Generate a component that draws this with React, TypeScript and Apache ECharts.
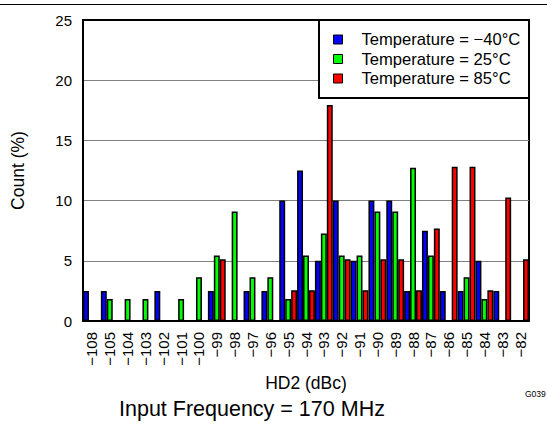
import React, { useEffect, useRef } from "react";
import * as echarts from "echarts";

const categories = [
  "\u2212108", "\u2212105", "\u2212104", "\u2212103", "\u2212102", "\u2212101", "\u2212100",
  "\u221299", "\u221298", "\u221297", "\u221296", "\u221295", "\u221294", "\u221293",
  "\u221292", "\u221291", "\u221290", "\u221289", "\u221288", "\u221287", "\u221286",
  "\u221285", "\u221284", "\u221283", "\u221282",
];

const seriesNames = ["Temperature = \u221240\u00b0C", "Temperature = 25\u00b0C", "Temperature = 85\u00b0C"];

const blueValues = [2.5, 2.5, null, null, 2.5, null, null, 2.5, null, 2.5, 2.5, 10, 12.5, 5, 10, 5, 10, 10, 2.5, 7.5, 2.5, 2.5, 5, 2.5, null];
const greenValues = [null, 1.82, 1.82, 1.82, null, 1.82, 3.64, 5.45, 9.09, 3.64, 3.64, 1.82, 5.45, 7.27, 5.45, 5.45, 9.09, 9.09, 12.73, 5.45, null, 3.64, 1.82, null, null];
const redValues = [null, null, null, null, null, null, null, 5.13, null, null, null, 2.56, 2.56, 17.95, 5.13, 2.56, 5.13, 5.13, 2.56, 7.69, 12.82, 12.82, 2.56, 10.26, 5.13];

const yTicks = { min: 0, max: 25, interval: 5 };
const colors = ["#0000ff", "#00ff00", "#ff0000"];

const FONT = "'Liberation Sans', Arial, Helvetica, sans-serif";

export default function App() {
  const ref = useRef<HTMLDivElement>(null);
  useEffect(() => {
    document.body.style.margin = "0";
    const chart = echarts.init(ref.current!, null, { renderer: "svg" });
    const values = [blueValues, greenValues, redValues];
    chart.setOption({
      animation: false,
      textStyle: { fontFamily: FONT, color: "#000" },
      title: {
        text: "Input Frequency = 170 MHz",
        left: 119,
        top: 398,
        padding: 0,
        textStyle: { fontFamily: FONT, fontSize: 21.5, fontWeight: "normal", color: "#000" },
      },
      grid: {
        left: 83,
        right: 18,
        top: 20,
        bottom: 106,
        show: true,
        borderColor: "#000",
        borderWidth: 2,
        backgroundColor: "#fff",
      },
      legend: {
        orient: "vertical",
        left: 333,
        top: 31,
        padding: 0,
        itemGap: 2.5,
        itemWidth: 9,
        itemHeight: 9,
        icon: "rect",
        z: 60,
        data: seriesNames,
        itemStyle: { borderColor: "#000", borderWidth: 1 },
        textStyle: { fontFamily: FONT, fontSize: 16.6, color: "#000", padding: [0, 0, 0, 14] },
      },
      xAxis: {
        type: "category",
        data: categories,
        boundaryGap: true,
        name: "HD2 (dBc)",
        nameLocation: "middle",
        nameGap: 51,
        nameTextStyle: { fontFamily: FONT, fontSize: 17.5, color: "#000" },
        axisLine: { lineStyle: { color: "#000", width: 2 } },
        axisTick: { show: false },
        axisLabel: {
          rotate: 90,
          interval: 0,
          margin: 11,
          fontFamily: FONT,
          fontSize: 15,
          color: "#000",
          padding: [0, 0, 26, 0],
        },
      },
      yAxis: {
        type: "value",
        min: yTicks.min,
        max: yTicks.max,
        interval: yTicks.interval,
        name: "Count (%)",
        nameLocation: "middle",
        nameRotate: 90,
        nameGap: 56,
        nameTextStyle: { fontFamily: FONT, fontSize: 17.5, color: "#000" },
        axisLine: { show: true, lineStyle: { color: "#000", width: 2 } },
        axisTick: { show: false },
        axisLabel: { margin: 11, fontFamily: FONT, fontSize: 15, color: "#000" },
        splitLine: { show: true, showMinLine: false, showMaxLine: false, lineStyle: { color: "#808080", width: 1 } },
      },
      series: seriesNames.map((name, i) => ({
        name,
        type: "bar",
        data: values[i],
        barGap: "0%",
        barCategoryGap: "0%",
        itemStyle: { color: colors[i], borderColor: "#000", borderWidth: 1.5 },
      })),
      graphic: [
        {
          type: "line",
          z: 50,
          shape: { x1: 0, y1: 4.5, x2: 547, y2: 4.5 },
          style: { stroke: "#000", lineWidth: 1 },
        },
        {
          type: "rect",
          z: 50,
          shape: { x: 319, y: 20, width: 210, height: 78 },
          style: { fill: "#fff", stroke: "#000", lineWidth: 2 },
        },
        {
          type: "text",
          z: 50,
          x: 525,
          y: 389,
          style: { text: "G039", fontFamily: FONT, fontSize: 8.5, fill: "#000" },
        },
      ],
    });
    return () => chart.dispose();
  }, []);
  return <div ref={ref} style={{ width: 547, height: 427 }} />;
}
